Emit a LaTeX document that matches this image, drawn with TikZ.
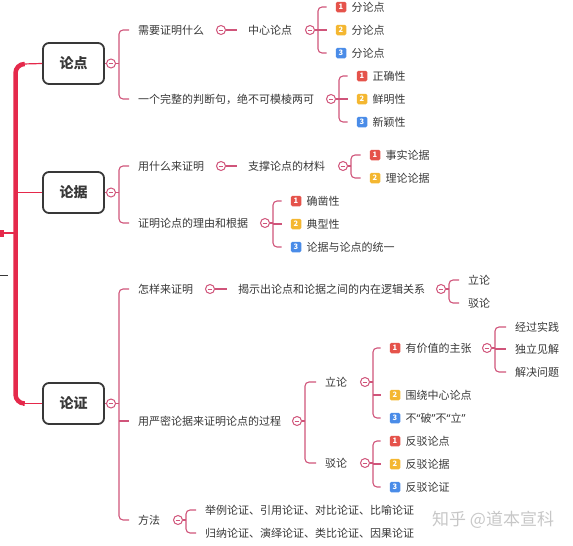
\documentclass[tikz,border=0pt]{standalone}
\usepackage{fontspec}
\setmainfont{Noto Sans CJK SC}
\newfontfamily\latq{Noto Sans}
\usetikzlibrary{calc}
\definecolor{ln}{HTML}{D0547A}
\definecolor{trk}{HTML}{E5294B}
\definecolor{txt}{HTML}{383838}
\definecolor{bR}{HTML}{E5534B}
\definecolor{bY}{HTML}{F4B731}
\definecolor{bB}{HTML}{4A8CE8}
\tikzset{
 lbl/.style={anchor=west,inner sep=0pt,text=txt,font=\fontsize{11}{13}\selectfont},
 topbox/.style={draw=txt,line width=1.8pt,rounded corners=6pt,minimum width=61pt,minimum height=41pt,font=\fontsize{14}{16}\selectfont\bfseries,text=txt},
 fold/.style={circle,draw=ln,fill=white,line width=1pt,minimum size=9pt,inner sep=0pt,path picture={\draw[ln,line width=0.8pt]([xshift=2.2pt]path picture bounding box.west)--([xshift=-2.2pt]path picture bounding box.east);}},
 br/.style={draw=ln,line width=1.1pt},
 badge/.style={rounded corners=1.5pt,minimum size=10.5pt,inner sep=0pt,text=white,font=\fontsize{7.5}{7.5}\selectfont\bfseries},
 trunk/.style={draw=trk,line width=4.5pt},
 twig/.style={draw=trk,line width=1.2pt},
}
\newcommand\brkt[3]{%
 \coordinate (#1b) at ($(#1.center)+(8,0)$);
 \draw[br] (#1.east) -- (#1b);
 \draw[br,rounded corners=4pt] ([xshift=-9pt]#2.west) -| (#1b) |- ([xshift=-9pt]#3.west);}
\newcommand\midt[2]{\draw[br] (#2.west -| #1b) -- ([xshift=-9pt]#2.west);}
\newcommand\onel[2]{\draw[br] (#1.east) -- ([xshift=-11pt]#2.west);}
\newcommand\bdg[5]{\node[badge,fill=#3] (#1) at #2 {#4}; \node[lbl] (#1t) at ([xshift=5pt]#1.east) {#5};}
\begin{document}
\begin{tikzpicture}[x=1pt,y=-1pt]
\useasboundingbox (0,0) rectangle (573,546);
% trunk
\coordinate (tTop) at (23,64);
\coordinate (tBot) at (23,403.5);
\coordinate (tMid) at (15.5,192.5);
\draw[trunk,rounded corners=9pt] (tTop) -| (15.5,300) |- (tBot);
% stubs on left edge
\fill[trk] (0,229.5) rectangle (4,236.5);
\coordinate (s1) at (0,233);
\coordinate (s2) at (15.5,233);
\draw[twig] (s1) -- (s2);
\coordinate (g1) at (0,275);
\coordinate (g2) at (8,275);
\draw[txt,line width=1pt] (g1) -- (g2);

% ===== 论点
\node[topbox] (B1) at (73.5,63.5) {论点};
\node[fold] (c1) at (111,63.5) {};
\draw[twig] (tTop) -- (B1.west);
\draw[br] (B1.east) -- (c1.west);
\node[lbl] (n11) at (138,30) {需要证明什么};
\node[lbl] (n12) at (138,99) {一个完整的判断句，绝不可模棱两可};
\brkt{c1}{n11}{n12}
\node[fold] (c11) at (221,30) {};
\node[lbl] (n111) at (248,30) {中心论点};
\onel{c11}{n111}
\node[fold] (c111) at (310,30) {};
\bdg{k1a}{(341,7)}{bR}{1}{分论点}
\bdg{k1b}{(341,30)}{bY}{2}{分论点}
\bdg{k1c}{(341,53)}{bB}{3}{分论点}
\brkt{c111}{k1a}{k1c}
\midt{c111}{k1b}
\node[fold] (c12) at (331,99) {};
\bdg{k2a}{(362,76)}{bR}{1}{正确性}
\bdg{k2b}{(362,99)}{bY}{2}{鲜明性}
\bdg{k2c}{(362,122)}{bB}{3}{新颖性}
\brkt{c12}{k2a}{k2c}
\midt{c12}{k2b}

% ===== 论据
\node[topbox] (B2) at (73.5,192.5) {论据};
\node[fold] (c2) at (111,192.5) {};
\draw[twig] (tMid) -- (B2.west);
\draw[br] (B2.east) -- (c2.west);
\node[lbl] (n21) at (138,166) {用什么来证明};
\node[lbl] (n22) at (138,223) {证明论点的理由和根据};
\brkt{c2}{n21}{n22}
\node[fold] (c21) at (221,166) {};
\node[lbl] (n211) at (248,166) {支撑论点的材料};
\onel{c21}{n211}
\node[fold] (c211) at (343,166) {};
\bdg{k3a}{(375,155)}{bR}{1}{事实论据}
\bdg{k3b}{(375,178)}{bY}{2}{理论论据}
\brkt{c211}{k3a}{k3b}
\node[fold] (c22) at (265,223) {};
\bdg{k4a}{(296,201)}{bR}{1}{确凿性}
\bdg{k4b}{(296,224)}{bY}{2}{典型性}
\bdg{k4c}{(296,247)}{bB}{3}{论据与论点的统一}
\brkt{c22}{k4a}{k4c}
\midt{c22}{k4b}

% ===== 论证
\node[topbox] (B3) at (73.5,403.5) {论证};
\node[fold] (c3) at (111,403.5) {};
\draw[twig] (tBot) -- (B3.west);
\draw[br] (B3.east) -- (c3.west);
\node[lbl] (n31) at (138,289) {怎样来证明};
\node[lbl] (n32) at (138,421) {用严密论据来证明论点的过程};
\node[lbl] (n33) at (138,520) {方法};
\brkt{c3}{n31}{n33}
\midt{c3}{n32}
\node[fold] (c31) at (210,289) {};
\node[lbl] (n311) at (238,289) {揭示出论点和论据之间的内在逻辑关系};
\onel{c31}{n311}
\node[fold] (c311) at (441,289) {};
\node[lbl] (n3111) at (468,280) {立论};
\node[lbl] (n3112) at (468,303) {驳论};
\brkt{c311}{n3111}{n3112}
\node[fold] (c32) at (297,421) {};
\node[lbl] (n321) at (325,382) {立论};
\node[lbl] (n322) at (325,463) {驳论};
\brkt{c32}{n321}{n322}
\node[fold] (c321) at (365,382) {};
\bdg{k5a}{(395,348)}{bR}{1}{有价值的主张}
\bdg{k5b}{(395,395)}{bY}{2}{围绕中心论点}
\bdg{k5c}{(395,418)}{bB}{3}{不{\latq“}破{\latq”}不{\latq“}立{\latq”}}
\brkt{c321}{k5a}{k5c}
\midt{c321}{k5b}
\node[fold] (c3211) at (487,348) {};
\node[lbl] (m1) at (515,327) {经过实践};
\node[lbl] (m2) at (515,349) {独立见解};
\node[lbl] (m3) at (515,372) {解决问题};
\brkt{c3211}{m1}{m3}
\midt{c3211}{m2}
\node[fold] (c322) at (365,463) {};
\bdg{k6a}{(395,441)}{bR}{1}{反驳论点}
\bdg{k6b}{(395,464)}{bY}{2}{反驳论据}
\bdg{k6c}{(395,487)}{bB}{3}{反驳论证}
\brkt{c322}{k6a}{k6c}
\midt{c322}{k6b}
\node[fold] (c33) at (178,520) {};
\node[lbl] (f1) at (205,510) {举例论证、引用论证、对比论证、比喻论证};
\node[lbl] (f2) at (205,533) {归纳论证、演绎论证、类比论证、因果论证};
\brkt{c33}{f1}{f2}

% watermark
\node[anchor=west,inner sep=0pt,text=black!22,font=\fontsize{17}{19}\selectfont] (wm) at (432,520) {知乎 @道本宣科};
\end{tikzpicture}
\end{document}
